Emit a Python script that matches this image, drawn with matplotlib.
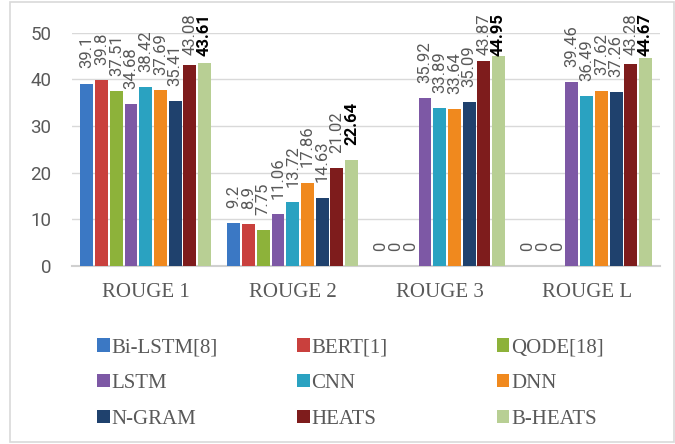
import numpy as np
import matplotlib.pyplot as plt
from matplotlib.patches import Rectangle, Patch

categories = ["ROUGE 1", "ROUGE 2", "ROUGE 3", "ROUGE L"]
models = ["Bi-LSTM[8]", "BERT[1]", "QODE[18]", "LSTM", "CNN", "DNN",
          "N-GRAM", "HEATS", "B-HEATS"]

bilstm = [39.1, 9.2, 0, 0]
bert = [39.8, 8.9, 0, 0]
qode = [37.51, 7.75, 0, 0]
lstm = [34.68, 11.06, 35.92, 39.46]
cnn = [38.42, 13.72, 33.89, 36.49]
dnn = [37.69, 17.86, 33.64, 37.62]
ngram = [35.41, 14.63, 35.09, 37.26]
heats = [43.08, 21.02, 43.87, 43.28]
bheats = [43.61, 22.64, 44.95, 44.67]
series = [bilstm, bert, qode, lstm, cnn, dnn, ngram, heats, bheats]

colors = ["#3b78c4", "#c9403d", "#8db23a", "#7d58a5", "#2aa2c1",
          "#f0891e", "#1f416d", "#7e1c1c", "#b8cf94"]

DPI = 100
fig = plt.figure(figsize=(6.75, 4.44), dpi=DPI)
ax = fig.add_axes([0.107, 0.401, 0.871, 0.525])

# thin frame round the whole chart
fig.patches.append(Rectangle((0.015, 0.005), 0.984, 0.99, transform=fig.transFigure,
                             fill=False, edgecolor="#d9d9d9", linewidth=1.2))

x = np.arange(len(categories))
slot = 0.1
width = 0.088
labels = []
for i, (name, vals, c) in enumerate(zip(models, series, colors)):
    pos = x + (i - 4) * slot
    ax.bar(pos, vals, width, color=c, label=name, zorder=3)
    last = i == len(models) - 1
    for p, v in zip(pos, vals):
        t = ax.annotate(f"{v:g}", (p, v), xytext=(0, 11), textcoords="offset points",
                        rotation=90, ha="center", va="bottom", fontsize=12,
                        fontweight="bold" if last else "normal",
                        color="black" if last else "#595959",
                        family="Roboto", annotation_clip=False, zorder=4)
        labels.append(t)

ax.set_ylim(0, 50)
ax.set_xlim(-0.5, 3.5)
ax.set_yticks(range(0, 51, 10))
ax.set_xticks(x)
ax.set_xticklabels(categories, family="Liberation Serif", fontsize=15, color="#595959")
for t in ax.get_yticklabels():
    t.set_family("Roboto")
ax.tick_params(axis="y", labelsize=13.5, labelcolor="#595959", length=0, pad=15)
ax.tick_params(axis="x", length=0, pad=12)
ax.grid(axis="y", color="#d9d9d9", linewidth=1, zorder=0)
for s in ["top", "right", "left"]:
    ax.spines[s].set_visible(False)
ax.spines["bottom"].set_color("#d0d0d0")
ax.spines["bottom"].set_linewidth(1.5)

# keep tall labels inside the chart frame
fig.canvas.draw()
renderer = fig.canvas.get_renderer()
top_px = fig.bbox.height - 13
for t in labels:
    bb = t.get_window_extent(renderer)
    if bb.y1 > top_px:
        dx, dy = t.xyann
        t.xyann = (dx, dy - (bb.y1 - top_px) * 72 / DPI)

# legend laid out row by row, three equal columns
col_x = [0.144, 0.44, 0.736]
for k in range(3):
    handles = [Patch(facecolor=colors[j], label=models[j]) for j in range(k, 9, 3)]
    leg = fig.legend(handles=handles, ncol=1, loc="upper left",
                     bbox_to_anchor=(col_x[k], 0.238), frameon=False,
                     prop={"family": "Liberation Serif", "size": 15},
                     handlelength=0.6, handleheight=0.6, handletextpad=0.1,
                     labelspacing=0.8, borderpad=0, borderaxespad=0)
    for t in leg.get_texts():
        t.set_color("#595959")

fig.savefig("out.png", dpi=DPI)
